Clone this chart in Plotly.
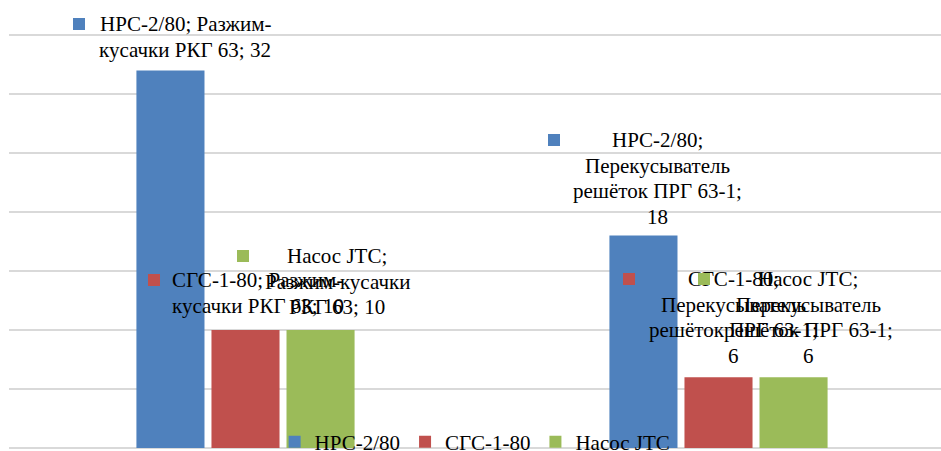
import plotly.graph_objects as go

# ---------------- data ----------------
categories = ["Разжим-кусачки РКГ 63", "Перекусыватель решёток ПРГ 63-1"]
series_names = ["НРС-2/80", "СГС-1-80", "Насос JTC"]
nrs_values = [32, 18]
sgs_values = [10, 6]
jtc_values = [10, 6]
series_values = [nrs_values, sgs_values, jtc_values]
colors = ["#4F81BD", "#C0504D", "#9BBB59"]

FONT = "Liberation Serif, Times New Roman, serif"
FS = 21

BARGAP = 0.524
BARGROUPGAP = 0.093
slot = (1 - BARGAP) / 3.0


def label_lines(si, ci):
    s = series_names[si]
    v = series_values[si][ci]
    if ci == 0:
        if si == 2:
            return [f"{s};", "Разжим-кусачки", f"РКГ 63; {v}"]
        return [f"{s}; Разжим-", f"кусачки РКГ 63; {v}"]
    return [f"{s};", "Перекусыватель", "решёток ПРГ 63-1;", f"{v}"]


# label styling: (text x shift px, first-line lift above bar top px, key x shift px)
label_style = {
    (0, 0): (15, 46, -91.5),
    (1, 0): (12, 50, -91.5),
    (2, 0): (16.5, 74, -78),
    (0, 1): (14, 95.5, -89.5),
    (1, 1): (14.5, 98, -89.5),
    (2, 1): (14.5, 98, -89.5),
}
LINE_STEP = 25.5

fig = go.Figure()
for si, name in enumerate(series_names):
    fig.add_trace(go.Bar(
        x=categories,
        y=series_values[si],
        name=name,
        marker=dict(color=colors[si], line=dict(width=0)),
    ))

annotations = []
for si in range(3):
    for ci in range(2):
        xd = ci + (si - 1) * slot
        yd = series_values[si][ci]
        dx, lift, kx = label_style[(si, ci)]
        for li, line in enumerate(label_lines(si, ci)):
            annotations.append(dict(
                x=xd, y=yd, xref="x", yref="y",
                text=line, showarrow=False,
                xanchor="center", yanchor="middle",
                xshift=dx, yshift=lift - li * LINE_STEP,
                font=dict(family=FONT, size=FS, color="#000000"),
            ))
        # legend key square of the data label
        annotations.append(dict(
            x=xd, y=yd, xref="x", yref="y",
            text=" ", showarrow=False, width=12, height=12,
            bgcolor=colors[si], borderpad=0, borderwidth=0,
            xanchor="center", yanchor="middle",
            xshift=kx, yshift=lift,
            font=dict(family=FONT, size=8),
        ))

YMAX = 35 + 2 / 11.8

fig.update_layout(
    width=941, height=451,
    margin=dict(l=9, r=0, t=33, b=3, autoexpand=False),
    paper_bgcolor="white", plot_bgcolor="white",
    barmode="group", bargap=BARGAP, bargroupgap=BARGROUPGAP,
    font=dict(family=FONT, size=FS, color="#000000"),
    showlegend=True,
    legend=dict(
        orientation="h", x=0.285, xanchor="left", y=0.0145, yanchor="middle",
        bgcolor="rgba(0,0,0,0)", font=dict(family=FONT, size=FS, color="#000000"),
    ),
    annotations=annotations,
)
fig.update_xaxes(
    type="category", range=[-0.5, -0.5 + 932 / 473.0],
    showticklabels=False, showgrid=False, zeroline=False, showline=False, ticks="",
)
fig.update_yaxes(
    range=[0, YMAX], tick0=0, dtick=5, showticklabels=False,
    showgrid=True, gridcolor="#d9d9d9", gridwidth=1.5,
    zeroline=True, zerolinecolor="#d9d9d9", zerolinewidth=1.5,
    showline=False, ticks="",
)

fig.write_html(
    "out.html",
    config={"displayModeBar": False},
    post_script="document.body.style.margin='0';document.body.style.overflow='hidden';",
)
